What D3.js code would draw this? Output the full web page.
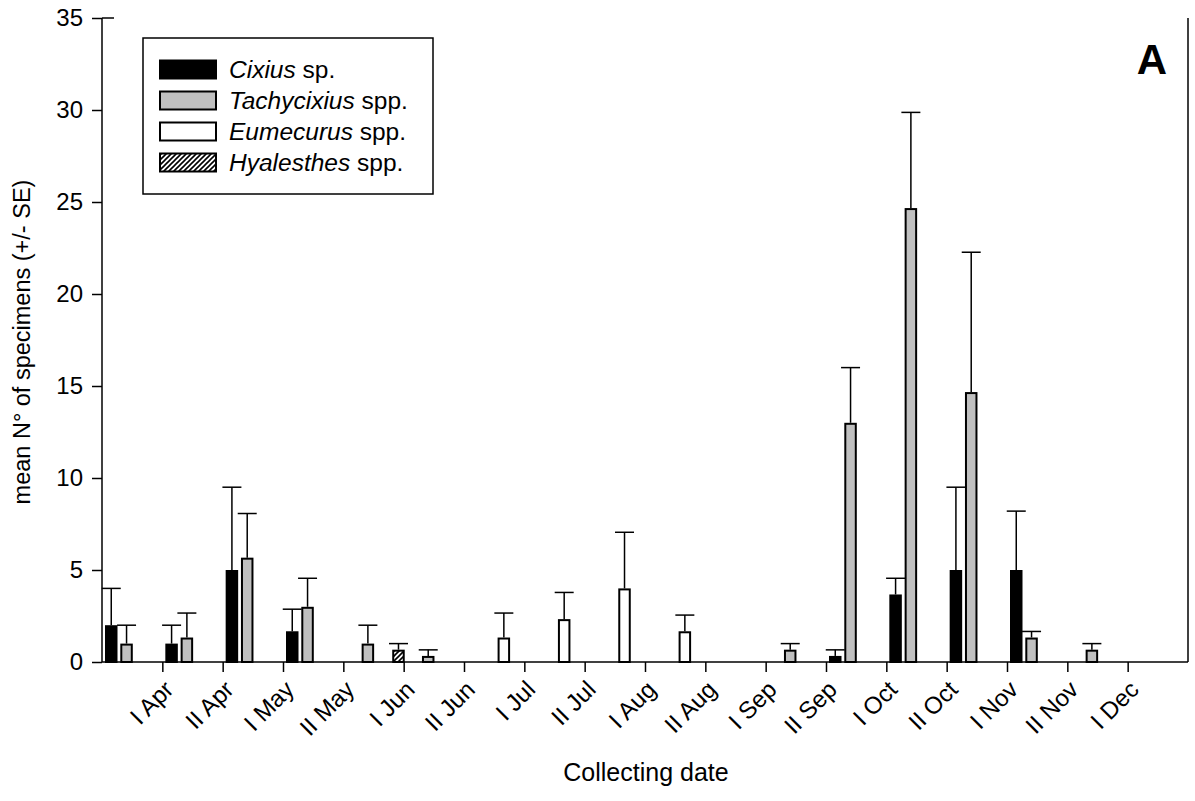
<!DOCTYPE html>
<html>
<head>
<meta charset="utf-8">
<script src="https://cdn.jsdelivr.net/npm/d3@7"></script>
<style>
  html, body { margin: 0; padding: 0; background: #fff; }
  text { font-family: Arial, "Liberation Sans", sans-serif; fill: #000; }
</style>
</head>
<body>
<svg id="chart" width="1195" height="801"></svg>
<script>
// ---- data ----
const tickLabels = ["I Apr","II Apr","I May","II May","I Jun","II Jun","I Jul","II Jul","I Aug","II Aug","I Sep","II Sep","I Oct","II Oct","I Nov","II Nov","I Dec"];
const groups = d3.range(18);
const seriesNames = ["Cixius","Tachycixius","Eumecurus","Hyalesthes"];
const seriesSuffix = [" sp."," spp."," spp."," spp."];
const cixius     = [2, 1, 5, 1.67, 0, 0, 0, 0, 0, 0, 0, 0, 0.33, 3.67, 5, 5, 0, 0];
const cixiusSE   = [2, 1, 4.5, 1.2, 0, 0, 0, 0, 0, 0, 0, 0, 0.33, 0.88, 4.5, 3.2, 0, 0];
const tachy      = [1, 1.33, 5.67, 3, 1, 0.33, 0, 0, 0, 0, 0, 0.67, 13, 24.67, 14.67, 1.33, 0.67, 0];
const tachySE    = [1, 1.33, 2.4, 1.55, 1, 0.33, 0, 0, 0, 0, 0, 0.33, 3, 5.2, 7.6, 0.33, 0.33, 0];
const eume       = [0, 0, 0, 0, 0, 0, 1.33, 2.33, 4, 1.67, 0, 0, 0, 0, 0, 0, 0, 0];
const eumeSE     = [0, 0, 0, 0, 0, 0, 1.33, 1.45, 3.05, 0.88, 0, 0, 0, 0, 0, 0, 0, 0];
const hyal       = [0, 0, 0, 0, 0.67, 0, 0, 0, 0, 0, 0, 0, 0, 0, 0, 0, 0, 0];
const hyalSE     = [0, 0, 0, 0, 0.33, 0, 0, 0, 0, 0, 0, 0, 0, 0, 0, 0, 0, 0];
const yTicks = [0, 5, 10, 15, 20, 25, 30, 35];

const seriesVals = [cixius, tachy, eume, hyal];
const seriesErr = [cixiusSE, tachySE, eumeSE, hyalSE];
const fills = ["#000000", "#c0c0c0", "#ffffff", "url(#hatch)"];

// ---- layout ----
const L = 102, R = 1188, T = 18, B = 662;
const FONT = "Arial, 'Liberation Sans', sans-serif";
const svg = d3.select("#chart");

const defs = svg.append("defs");
const pat = defs.append("pattern").attr("id", "hatch")
  .attr("patternUnits", "userSpaceOnUse").attr("width", 5).attr("height", 5);
pat.append("rect").attr("width", 5).attr("height", 5).attr("fill", "#fff");
pat.append("path").attr("d", "M-1,1 L1,-1 M0,5 L5,0 M4,6 L6,4")
  .attr("stroke", "#000").attr("stroke-width", 1.6);

const xLin = d3.scaleLinear().domain([0, 18]).range([L, R]);
const xGroup = d3.scaleBand().domain(groups).range([L, R]).paddingInner(0).paddingOuter(0);
const xSeries = d3.scaleBand().domain(d3.range(4)).range([3, 61.4]).paddingInner(0.183).paddingOuter(0);
const y = d3.scaleLinear().domain([0, 35]).range([B, T]);

// bars
seriesVals.forEach((vals, s) => {
  const g = svg.append("g");
  const data = groups.map(i => ({i, v: vals[i], e: seriesErr[s][i]})).filter(d => d.v > 0);
  const bw = xSeries.bandwidth();
  g.selectAll("rect").data(data).enter().append("rect")
    .attr("x", d => xGroup(d.i) + xSeries(s) + 1)
    .attr("y", d => y(d.v) + 1)
    .attr("width", bw - 2)
    .attr("height", d => Math.max(0, y(0) - y(d.v) - 1))
    .attr("fill", fills[s])
    .attr("stroke", "#000").attr("stroke-width", 2);
  const eg = svg.append("g").attr("stroke", "#000").attr("stroke-width", 1.5);
  data.filter(d => d.e > 0).forEach(d => {
    const cx = xGroup(d.i) + xSeries(s) + bw / 2;
    eg.append("line").attr("x1", cx).attr("x2", cx).attr("y1", y(d.v)).attr("y2", y(d.v + d.e));
    eg.append("line").attr("x1", cx - 9.5).attr("x2", cx + 9.5).attr("y1", y(d.v + d.e)).attr("y2", y(d.v + d.e));
  });
});

// axes
const yAxis = d3.axisLeft(y).tickValues(yTicks).tickSize(10).tickPadding(9);
const gy = svg.append("g").attr("transform", `translate(${L},0)`).call(yAxis);
gy.select(".domain").attr("stroke", "#000").attr("stroke-width", 1.5).attr("d", `M0,${T}V${B}`);
gy.selectAll(".tick line").attr("stroke", "#000").attr("stroke-width", 1.5);
gy.selectAll("text").style("font-size", "24px").style("font-family", FONT);
// small cap at the top of the y axis
svg.append("line").attr("x1", L).attr("x2", L + 12).attr("y1", T).attr("y2", T)
  .attr("stroke", "#000").attr("stroke-width", 1.5);

const xAxis = d3.axisBottom(xLin).tickValues(d3.range(1, 18)).tickSize(10).tickFormat(d => tickLabels[d - 1]);
const gx = svg.append("g").attr("transform", `translate(0,${B})`).call(xAxis);
gx.select(".domain").attr("stroke", "#000").attr("stroke-width", 1.5).attr("d", `M${L},0H${R}`);
gx.selectAll(".tick line").attr("stroke", "#000").attr("stroke-width", 1.5);
gx.selectAll("text")
  .style("font-size", "24px").style("font-family", FONT)
  .attr("text-anchor", "end")
  .attr("x", 0).attr("y", 0).attr("dy", 0)
  .attr("transform", "translate(12,29) rotate(-45)");

// right edge line
svg.append("line").attr("x1", R).attr("x2", R).attr("y1", T).attr("y2", B)
  .attr("stroke", "#000").attr("stroke-width", 1.5);

// axis titles
svg.append("text").attr("x", 646).attr("y", 781).attr("text-anchor", "middle")
  .style("font-size", "25px").text("Collecting date");
svg.append("text").attr("transform", "translate(30,342) rotate(-90)").attr("text-anchor", "middle")
  .style("font-size", "23.5px").text("mean N\u00B0 of specimens (+/- SE)");

// panel letter
svg.append("text").attr("x", 1152).attr("y", 74).attr("text-anchor", "middle")
  .style("font-size", "42px").style("font-weight", "bold").text("A");

// legend
const lg = svg.append("g");
lg.append("rect").attr("x", 143).attr("y", 38).attr("width", 290).attr("height", 156)
  .attr("fill", "#fff").attr("stroke", "#000").attr("stroke-width", 1.5);
const rowY = [69.5, 100.5, 131.5, 162.5];
seriesNames.forEach((name, s) => {
  lg.append("rect").attr("x", 160).attr("y", rowY[s] - 9).attr("width", 56).attr("height", 18)
    .attr("fill", fills[s]).attr("stroke", "#000").attr("stroke-width", 2);
  const t = lg.append("text").attr("x", 229).attr("y", rowY[s] + 8.5).style("font-size", "24.5px");
  t.append("tspan").style("font-style", "italic").text(name);
  t.append("tspan").text(seriesSuffix[s]);
});
</script>
</body>
</html>
